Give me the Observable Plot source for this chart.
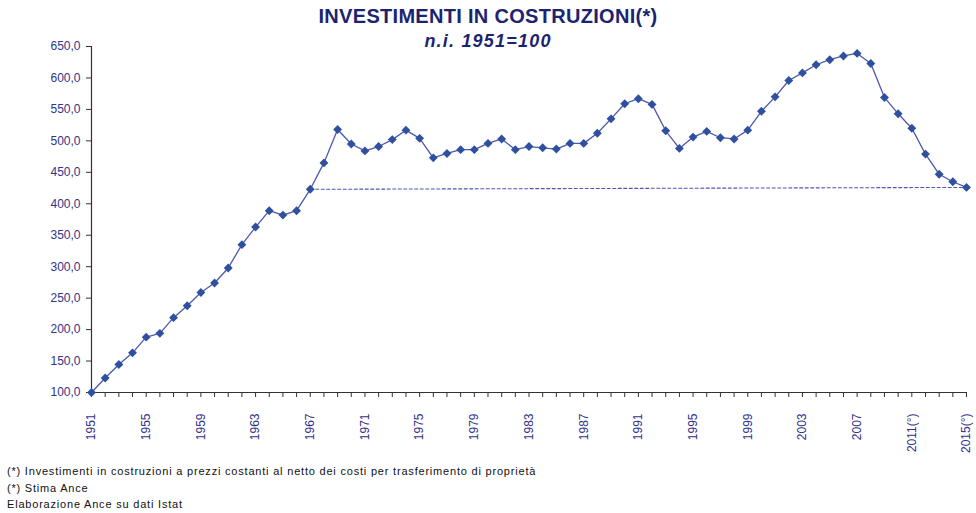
<!DOCTYPE html>
<html>
<head>
<meta charset="utf-8">
<script src="https://cdn.jsdelivr.net/npm/d3@7"></script>
<script src="https://cdn.jsdelivr.net/npm/@observablehq/plot@0.6"></script>
<style>
  html, body { margin: 0; padding: 0; background: #fff; }
  #wrap { position: relative; width: 976px; height: 513px; overflow: hidden; font-family: "Liberation Sans", Arial, sans-serif; }
  #title { position: absolute; left: 0; width: 976px; top: 5px; text-align: center; font-weight: bold; font-size: 20px; letter-spacing: 0.3px; color: #1c2470; }
  #subtitle { position: absolute; left: 0; width: 976px; top: 31px; text-align: center; font-weight: bold; font-style: italic; font-size: 18px; letter-spacing: 1.2px; color: #1c2470; }
  #chart { position: absolute; left: 0; top: 0; }
  #notes { position: absolute; left: 7px; top: 463px; font-size: 11px; line-height: 16.5px; letter-spacing: 0.8px; color: #111; }
</style>
</head>
<body>
<div id="wrap">
  <div id="chart"></div>
  <div id="title">INVESTIMENTI IN COSTRUZIONI(*)</div>
  <div id="subtitle">n.i. 1951=100</div>
  <div id="notes">
    <div>(*) Investimenti in costruzioni a prezzi costanti al netto dei costi per trasferimento di proprietà</div>
    <div>(*) Stima Ance</div>
    <div>Elaborazione Ance su dati Istat</div>
  </div>
</div>
<script>
const years = d3.range(1951, 2016);
const values = [
  100, 123, 144.5, 163, 188, 194, 219, 238, 259, 274,
  298, 335, 363, 389, 382, 389, 423, 465, 518, 495,
  484, 491, 502, 517, 504, 473, 480, 486, 486, 496,
  503, 486, 491, 489, 487, 496, 496, 512, 535, 559,
  567, 558, 516, 488, 506, 515, 505, 503, 517, 547,
  570, 596, 608, 621, 629, 635, 639, 623, 569, 543,
  520, 479, 447, 435, 426
];
const dashYears = [1967, 2015];
const dashValues = [423, 426];
const xLabelYears = [1951,1955,1959,1963,1967,1971,1975,1979,1983,1987,1991,1995,1999,2003,2007,2011,2015];
const xLabels = ["1951","1955","1959","1963","1967","1971","1975","1979","1983","1987","1991","1995","1999","2003","2007","2011(°)","2015(°)"];
const yTicks = [100,150,200,250,300,350,400,450,500,550,600,650];

const data = years.map((y, i) => ({year: y, value: values[i]}));
const dash = dashYears.map((y, i) => ({year: y, value: dashValues[i]}));
const labelMap = new Map(xLabelYears.map((y, i) => [y, xLabels[i]]));

const lineColor = "#4b58b0";
const dotColor = "#2f4f9f";
const tickText = "#30338c";

const chart = Plot.plot({
  width: 976,
  height: 460,
  marginTop: 46,
  marginBottom: 68,
  marginLeft: 91,
  marginRight: 10,
  style: {fontFamily: "Liberation Sans, Arial, sans-serif", fontSize: "12px", background: "transparent"},
  x: {domain: [1951, 2015]},
  y: {domain: [100, 650]},
  marks: [
    Plot.axisY({ticks: yTicks, tickFormat: d => d3.format(".1f")(d).replace(".", ","), tickSize: 5, tickPadding: 6, stroke: "#333", fill: tickText, label: null, letterSpacing: 1}),
    Plot.axisX({ticks: years, tickFormat: () => "", tickSize: 5, stroke: "#333", label: null}),
    Plot.axisX({ticks: xLabelYears, tickFormat: d => labelMap.get(d), tickSize: 0, tickPadding: 21, tickRotate: -90, fill: tickText, label: null}),
    Plot.ruleX([1951], {y1: 100, y2: 650, stroke: "#333", strokeWidth: 1.2}),
    Plot.ruleY([100], {x1: 1951, x2: 2015, stroke: "#333", strokeWidth: 1.2}),
    Plot.line(dash, {x: "year", y: "value", stroke: lineColor, strokeWidth: 1.1, strokeDasharray: "3,2.5"}),
    Plot.line(data, {x: "year", y: "value", stroke: lineColor, strokeWidth: 1.3}),
    Plot.dot(data, {x: "year", y: "value", symbol: "diamond2", r: 4, fill: dotColor, stroke: "none"})
  ]
});
document.getElementById("chart").appendChild(chart);
</script>
</body>
</html>
